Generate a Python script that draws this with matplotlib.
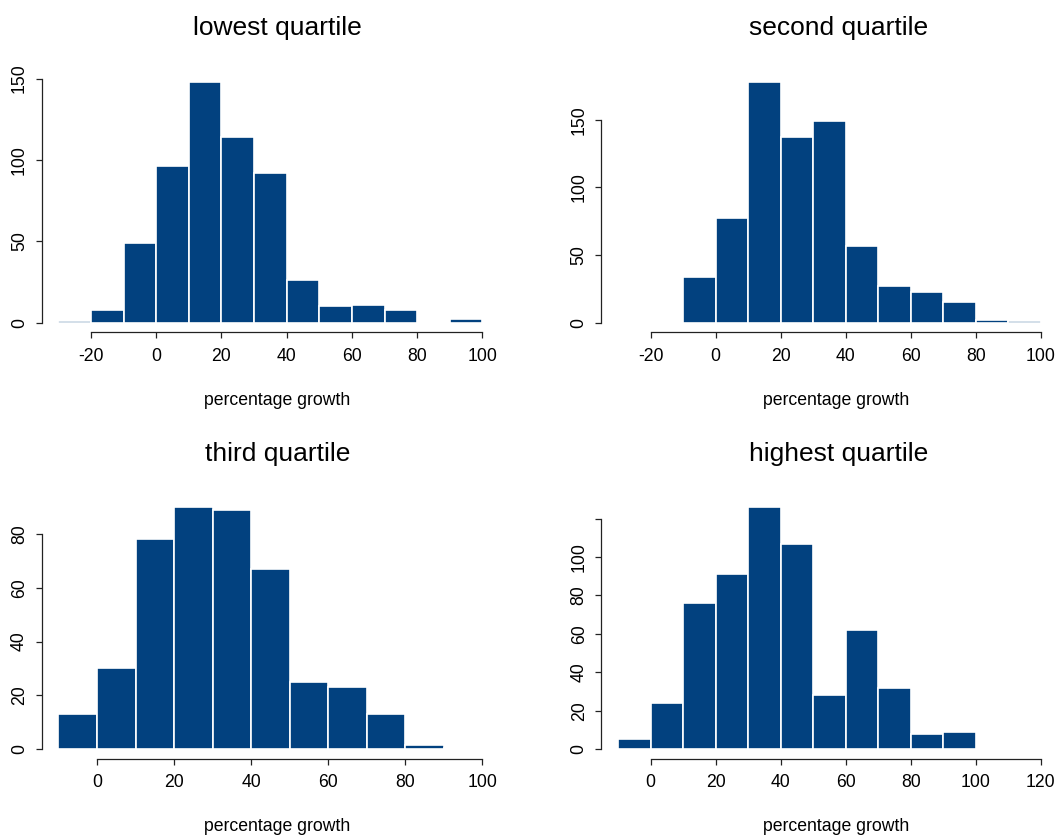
import matplotlib
matplotlib.use("Agg")
import matplotlib.pyplot as plt

plt.rcParams['font.family'] = ['Liberation Sans', 'DejaVu Sans']

# histogram counts, one bar per 10-point bin
lowest_edges = [-30, -20, -10, 0, 10, 20, 30, 40, 50, 60, 70, 80, 90, 100]
lowest_counts = [1, 8, 49, 96, 148, 114, 92, 26, 10, 11, 8, 0, 2]

second_edges = [-30, -20, -10, 0, 10, 20, 30, 40, 50, 60, 70, 80, 90, 100]
second_counts = [0, 0, 34, 77, 178, 137, 149, 57, 27, 23, 15, 2, 1]

third_edges = [-10, 0, 10, 20, 30, 40, 50, 60, 70, 80, 90, 100]
third_counts = [13, 30, 78, 90, 89, 67, 25, 23, 13, 1.5, 0.3]

highest_edges = [-10, 0, 10, 20, 30, 40, 50, 60, 70, 80, 90, 100, 110, 120]
highest_counts = [5, 24, 76, 91, 126, 107, 28, 62, 32, 8, 9, 0, 0.3]

titles = ["lowest quartile", "second quartile", "third quartile", "highest quartile"]
xticks = [[-20, 0, 20, 40, 60, 80, 100],
          [-20, 0, 20, 40, 60, 80, 100],
          [0, 20, 40, 60, 80, 100],
          [0, 20, 40, 60, 80, 100, 120]]
yticks = [[0, 50, 100, 150],
          [0, 50, 100, 150],
          [0, 20, 40, 60, 80],
          [0, 20, 40, 60, 80, 100, 120]]
ytick_labels = [["0", "50", "100", "150"],
                ["0", "50", "100", "150"],
                ["0", "20", "40", "60", "80"],
                ["0", "20", "40", "60", "80", "100", ""]]

panels = [(lowest_edges, lowest_counts), (second_edges, second_counts),
          (third_edges, third_counts), (highest_edges, highest_counts)]

W, H = 1064, 836
fig = plt.figure(figsize=(W / 100, H / 100), dpi=100)

# plot regions in pixels: (left, right, top, bottom)
cols = [(41.5, 499.3), (601.3, 1057.6)]
rows = [(72.2, 332.3), (497.5, 758.7)]
title_x = [277.5, 838.3]

bar_color = "#02417f"

for i, (edges, counts) in enumerate(panels):
    r, c = divmod(i, 2)
    l, rt = cols[c]
    t, b = rows[r]
    ax = fig.add_axes([l / W, 1 - b / H, (rt - l) / W, (b - t) / H])

    ax.bar(edges[:-1], counts, width=10, align='edge', color=bar_color,
           edgecolor='white', linewidth=1.2)

    lo, hi = edges[0], edges[-1]
    ax.set_xlim(lo - 0.04 * (hi - lo), hi + 0.04 * (hi - lo))
    ymax = max(counts)
    ax.set_ylim(-0.04 * ymax, 1.04 * ymax)

    ax.set_xticks(xticks[i])
    ax.set_xticklabels([str(v) for v in xticks[i]])
    ax.set_yticks(yticks[i])
    ax.set_yticklabels(ytick_labels[i], rotation=90, va='center')

    for s in ['top', 'right']:
        ax.spines[s].set_visible(False)
    ax.spines['left'].set_bounds(yticks[i][0], yticks[i][-1])
    ax.spines['bottom'].set_bounds(xticks[i][0], xticks[i][-1])
    for s in ['left', 'bottom']:
        ax.spines[s].set_linewidth(0.9)
        ax.spines[s].set_color('#222222')
    ax.tick_params(direction='out', length=4.3, width=0.9, color='#222222',
                   labelsize=12.7, labelcolor='black')
    ax.tick_params(axis='x', pad=6.8)
    ax.tick_params(axis='y', pad=5.5)

    fig.text(title_x[c] / W, 1 - (t - 37) / H, titles[i], ha='center',
             va='baseline', fontsize=19)
    fig.text((l + rt) / 2 / W + 0.0065, 1 - (b + 72.5) / H, "percentage growth",
             ha='center', va='baseline', fontsize=12.7)

fig.savefig("out.png", dpi=100)
